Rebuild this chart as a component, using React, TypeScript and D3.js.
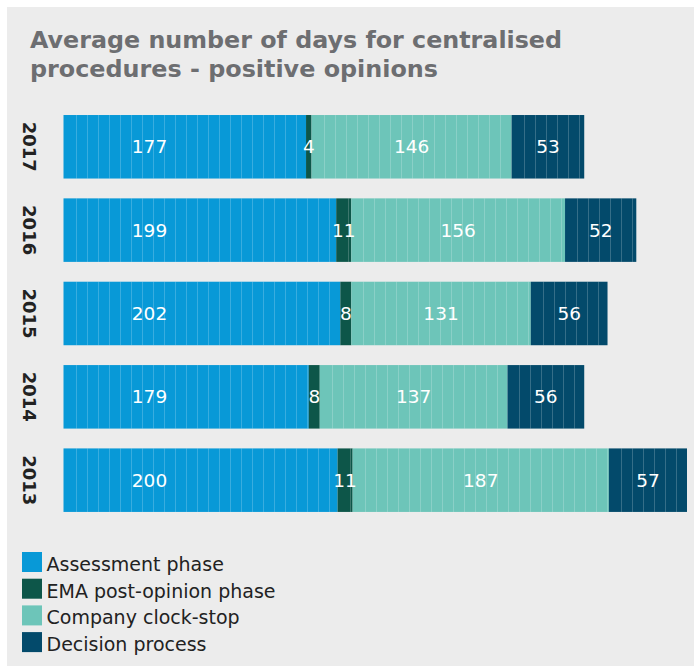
import React from "react";
import * as d3 from "d3";

const years = ["2017", "2016", "2015", "2014", "2013"];
const assessment = [177, 199, 202, 179, 200];
const emaPostOpinion = [4, 11, 8, 8, 11];
const clockStop = [146, 156, 131, 137, 187];
const decision = [53, 52, 56, 56, 57];
const seriesNames = ["Assessment phase", "EMA post-opinion phase", "Company clock-stop", "Decision process"];
const seriesColors = ["#0899d7", "#0d5649", "#6dc5b9", "#034a6b"];
const titleLines = ["Average number of days for centralised", "procedures - positive opinions"];

const W = 694;
const H = 666;
const FONT = "'DejaVu Sans', Verdana, sans-serif";

export default function App() {
  const series = [assessment, emaPostOpinion, clockStop, decision];
  const rows = years.map((y, i) => ({ year: y, vals: series.map((s) => s[i]) }));
  const stack = d3
    .stack<any>()
    .keys([0, 1, 2, 3] as any)
    .value((d: any, k: any) => d.vals[k]);
  const stacked = stack(rows as any);
  const maxTotal = d3.max(rows, (r) => d3.sum(r.vals)) as number;

  const x = d3.scaleLinear().domain([0, maxTotal]).range([63.5, 687]);
  const step = 83.35;
  const y = d3
    .scaleBand<string>()
    .domain(years)
    .range([105.1, 105.1 + step * years.length])
    .paddingInner(0.238)
    .paddingOuter(0.119);
  const bh = y.bandwidth();

  return (
    <svg
      width={W}
      height={H}
      style={{ position: "absolute", left: 0, top: 0, display: "block" }}
    >
      <rect x={7} y={7} width={W - 7} height={H - 7} fill="#ececec" />
      <text
        x={30}
        y={48}
        fontFamily={FONT}
        fontWeight="bold"
        fontSize={23}
        fill="#6d6e71"
        textLength={532}
        lengthAdjust="spacingAndGlyphs"
      >
        {titleLines[0]}
      </text>
      <text
        x={30}
        y={76.5}
        fontFamily={FONT}
        fontWeight="bold"
        fontSize={23}
        fill="#6d6e71"
        textLength={408}
        lengthAdjust="spacingAndGlyphs"
      >
        {titleLines[1]}
      </text>

      {stacked.map((layer, si) =>
        layer.map((seg: any, ri) => {
          const yr = years[ri];
          const x0 = x(seg[0]);
          const x1 = x(seg[1]);
          const yy = y(yr) as number;
          const stripes: number[] = [];
          for (let sx = x0 + 12; sx < x1 - 2; sx += 11) stripes.push(sx);
          return (
            <g key={`${si}-${ri}`}>
              <rect x={x0} y={yy} width={x1 - x0} height={bh} fill={seriesColors[si]} />
              {stripes.map((sx, k) => (
                <line
                  key={k}
                  x1={Math.round(sx) + 0.5}
                  x2={Math.round(sx) + 0.5}
                  y1={yy}
                  y2={yy + bh}
                  stroke="rgba(255,255,255,0.2)"
                  strokeWidth={1}
                />
              ))}
            </g>
          );
        })
      )}

      {stacked.map((layer, si) =>
        layer.map((seg: any, ri) => {
          const yr = years[ri];
          const x0 = x(seg[0]);
          const x1 = x(seg[1]);
          const yy = (y(yr) as number) + bh / 2;
          const lx = si === 0 ? x0 + 86 : (x0 + x1) / 2;
          return (
            <text
              key={`l-${si}-${ri}`}
              x={lx}
              y={yy}
              dy="0.36em"
              textAnchor="middle"
              fontFamily={FONT}
              fontSize={18.5}
              fill="#ffffff"
            >
              {seg[1] - seg[0]}
            </text>
          );
        })
      )}

      {years.map((yr) => {
        const cy = (y(yr) as number) + bh / 2;
        return (
          <text
            key={yr}
            transform={`translate(29.5,${cy}) rotate(90)`}
            textAnchor="middle"
            dy="0.36em"
            fontFamily={FONT}
            fontWeight="bold"
            fontSize={18}
            fill="#222222"
          >
            {yr}
          </text>
        );
      })}

      {seriesNames.map((name, i) => {
        const ty = 552 + i * 26.7;
        return (
          <g key={name}>
            <rect x={22} y={ty} width={20} height={20} fill={seriesColors[i]} />
            <text x={46.5} y={ty + 19} fontFamily={FONT} fontSize={19} fill="#222222">
              {name}
            </text>
          </g>
        );
      })}
    </svg>
  );
}
